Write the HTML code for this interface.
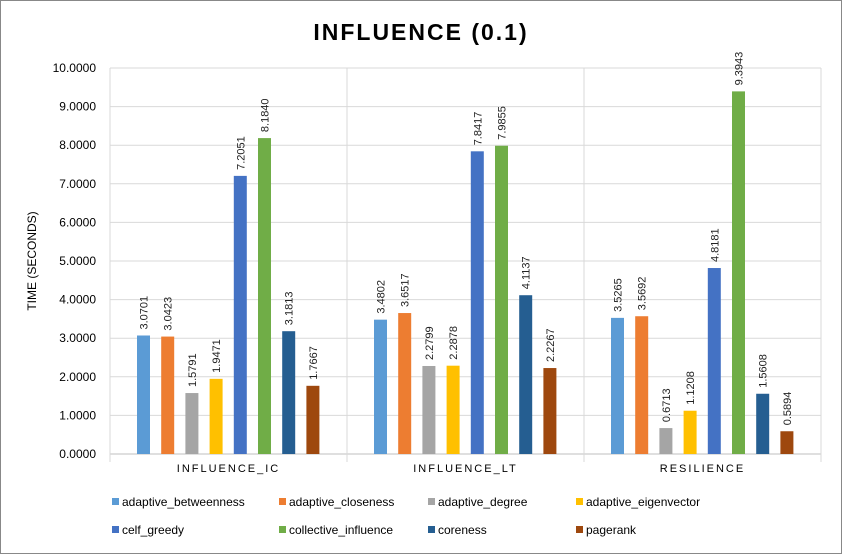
<!DOCTYPE html>
<html><head><meta charset="utf-8">
<style>
body{margin:0;background:#fff;}
svg{display:block;font-family:"Liberation Sans",sans-serif;}
</style></head>
<body>
<svg id="chart" width="842" height="554">
<rect x="0.5" y="0.5" width="841" height="553" fill="#fff" stroke="#888"/>
<text x="421" y="40" text-anchor="middle" font-size="23" font-weight="bold" letter-spacing="2" fill="#000">INFLUENCE (0.1)</text>
<text transform="translate(36,261) rotate(-90)" text-anchor="middle" font-size="12" fill="#000">TIME (SECONDS)</text>
<g id="grid"></g><g id="bars"></g><g id="legend"></g>
</svg>
<script>
const categories=["INFLUENCE_IC","INFLUENCE_LT","RESILIENCE"];
const seriesNames=["adaptive_betweenness","adaptive_closeness","adaptive_degree","adaptive_eigenvector","celf_greedy","collective_influence","coreness","pagerank"];
const seriesColors=["#5B9BD5","#ED7D31","#A5A5A5","#FFC000","#4472C4","#70AD47","#255E91","#9E480E"];
const values=[
[3.0701,3.0423,1.5791,1.9471,7.2051,8.1840,3.1813,1.7667],
[3.4802,3.6517,2.2799,2.2878,7.8417,7.9855,4.1137,2.2267],
[3.5265,3.5692,0.6713,1.1208,4.8181,9.3943,1.5608,0.5894]];
const yTicks=[0,1,2,3,4,5,6,7,8,9,10];
const NS="http://www.w3.org/2000/svg";
const x0=110,x1=821,yTop=68,yBot=454,yMax=10;
const gw=(x1-x0)/categories.length;
const y=v=>yBot-(v/yMax)*(yBot-yTop);
function mk(p,t,a){const e=document.createElementNS(NS,t);for(const k in a)e.setAttribute(k,a[k]);p.appendChild(e);return e;}
const grid=document.getElementById('grid'),bars=document.getElementById('bars'),leg=document.getElementById('legend');
yTicks.forEach(t=>{
 const l=mk(grid,'line',{x1:x0,x2:x1,y1:y(t),y2:y(t),stroke:t===0?'#bfbfbf':'#d9d9d9'});
 
 
 const tx=mk(grid,'text',{x:x0-14,y:y(t)+4,'text-anchor':'end','font-size':12,fill:'#000'});
 tx.textContent=t.toFixed(4);
 
 
});
for(let i=0;i<=categories.length;i++){
 const l=mk(grid,'line',{x1:x0+i*gw,x2:x0+i*gw,y1:yTop,y2:yBot+8,stroke:'#d9d9d9'});
 
 
}
categories.forEach((c,ci)=>{
 const tx=mk(grid,'text',{x:x0+ci*gw+gw/2,y:472,'text-anchor':'middle','font-size':11,'letter-spacing':2,fill:'#000'});
 tx.textContent=c;
 
 
 values[ci].forEach((v,si)=>{
  const bx=x0+ci*gw+27+si*24.2, bw=13;
  const r=mk(bars,'rect',{x:bx,y:y(v),width:bw,height:yBot-y(v),fill:seriesColors[si]});
  
  
  const t=mk(bars,'text',{transform:`translate(${bx+bw/2+4},${y(v)-6}) rotate(-90)`,'font-size':11,fill:'#222'});
  t.textContent=v.toFixed(4);
  
  
 });
});
const lx=[112,279,428,576],ly=[502,530];
seriesNames.forEach((n,i)=>{
 const g=mk(leg,'g',{});
 
 
 const X=lx[i%4],Y=ly[Math.floor(i/4)];
 mk(g,'rect',{x:X,y:Y-4,width:7,height:7,fill:seriesColors[i]});
 const t=mk(g,'text',{x:X+10,y:Y+4,'font-size':12,fill:'#000'});
 t.textContent=n;
});
</script>
</body></html>
